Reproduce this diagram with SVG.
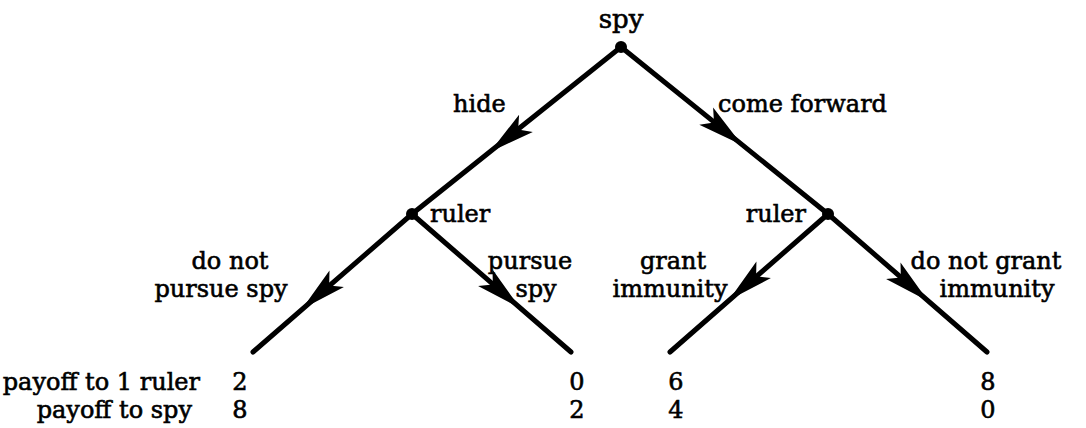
<svg xmlns="http://www.w3.org/2000/svg" width="1086" height="428" viewBox="0 0 1086 428">
  <style>
    .edge { stroke: #000; stroke-width: 5; stroke-linecap: round; fill: none; }
    .dot { fill: #000; }
    .arrow { fill: #000; }
    text { font-family: "DejaVu Serif", "Liberation Serif", serif; font-size: 24px; fill: #000; stroke: #000; stroke-width: 0.6; }
    .mid { text-anchor: middle; }
    .end { text-anchor: end; }
  </style>
  <defs>
    <!-- arrowhead pointing along +x, tip at origin -->
    <path id="head" d="M0,0 L-46,-11 L-36,0 L-46,11 Z"/>
  </defs>
  <rect width="1086" height="428" fill="#fff"/>

  <!-- branches of the game tree -->
  <g id="connectors">
    <line class="edge" x1="621" y1="47" x2="412" y2="214"/>
    <line class="edge" x1="621" y1="47" x2="828" y2="214"/>
    <line class="edge" x1="412" y1="214" x2="253" y2="352"/>
    <line class="edge" x1="412" y1="214" x2="571" y2="352"/>
    <line class="edge" x1="828" y1="214" x2="670" y2="352"/>
    <line class="edge" x1="828" y1="214" x2="987" y2="352"/>
    <use class="arrow" href="#head" transform="translate(490,152) rotate(141.4)"/>
    <use class="arrow" href="#head" transform="translate(742,145) rotate(38.9)"/>
    <use class="arrow" href="#head" transform="translate(302,309) rotate(139)"/>
    <use class="arrow" href="#head" transform="translate(520,308) rotate(41)"/>
    <use class="arrow" href="#head" transform="translate(729,300) rotate(138.9)"/>
    <use class="arrow" href="#head" transform="translate(928,301) rotate(41)"/>
    <text x="453" y="112">hide</text>
    <text x="718" y="112">come forward</text>
    <text class="mid" x="230" y="269">do not</text>
    <text class="mid" x="221" y="297">pursue spy</text>
    <text class="mid" x="530" y="269">pursue</text>
    <text class="mid" x="536" y="297">spy</text>
    <text class="mid" x="673" y="269">grant</text>
    <text class="mid" x="670" y="297">immunity</text>
    <text class="mid" x="986" y="269">do not grant</text>
    <text class="mid" x="997" y="297">immunity</text>
  </g>

  <!-- decision nodes -->
  <g id="node-spy">
    <circle class="dot" cx="621" cy="47" r="6"/>
    <text class="mid" x="621" y="28" style="font-size:26px">spy</text>
  </g>
  <g id="node-ruler-hide">
    <circle class="dot" cx="412" cy="214" r="6"/>
    <text x="430" y="222">ruler</text>
  </g>
  <g id="node-ruler-forward">
    <circle class="dot" cx="828" cy="214" r="6"/>
    <text class="end" x="806" y="222">ruler</text>
  </g>

  <!-- terminal payoffs -->
  <g id="payoff-labels">
    <text class="end" x="200" y="390">payoff to 1 ruler</text>
    <text class="end" x="192" y="418">payoff to spy</text>
  </g>
  <g id="leaf-hide-no-pursue">
    <text class="mid" x="240" y="390">2</text>
    <text class="mid" x="240" y="418">8</text>
  </g>
  <g id="leaf-hide-pursue">
    <text class="mid" x="577" y="390">0</text>
    <text class="mid" x="577" y="418">2</text>
  </g>
  <g id="leaf-forward-grant">
    <text class="mid" x="676" y="390">6</text>
    <text class="mid" x="676" y="418">4</text>
  </g>
  <g id="leaf-forward-no-grant">
    <text class="mid" x="988" y="390">8</text>
    <text class="mid" x="988" y="418">0</text>
  </g>
</svg>
